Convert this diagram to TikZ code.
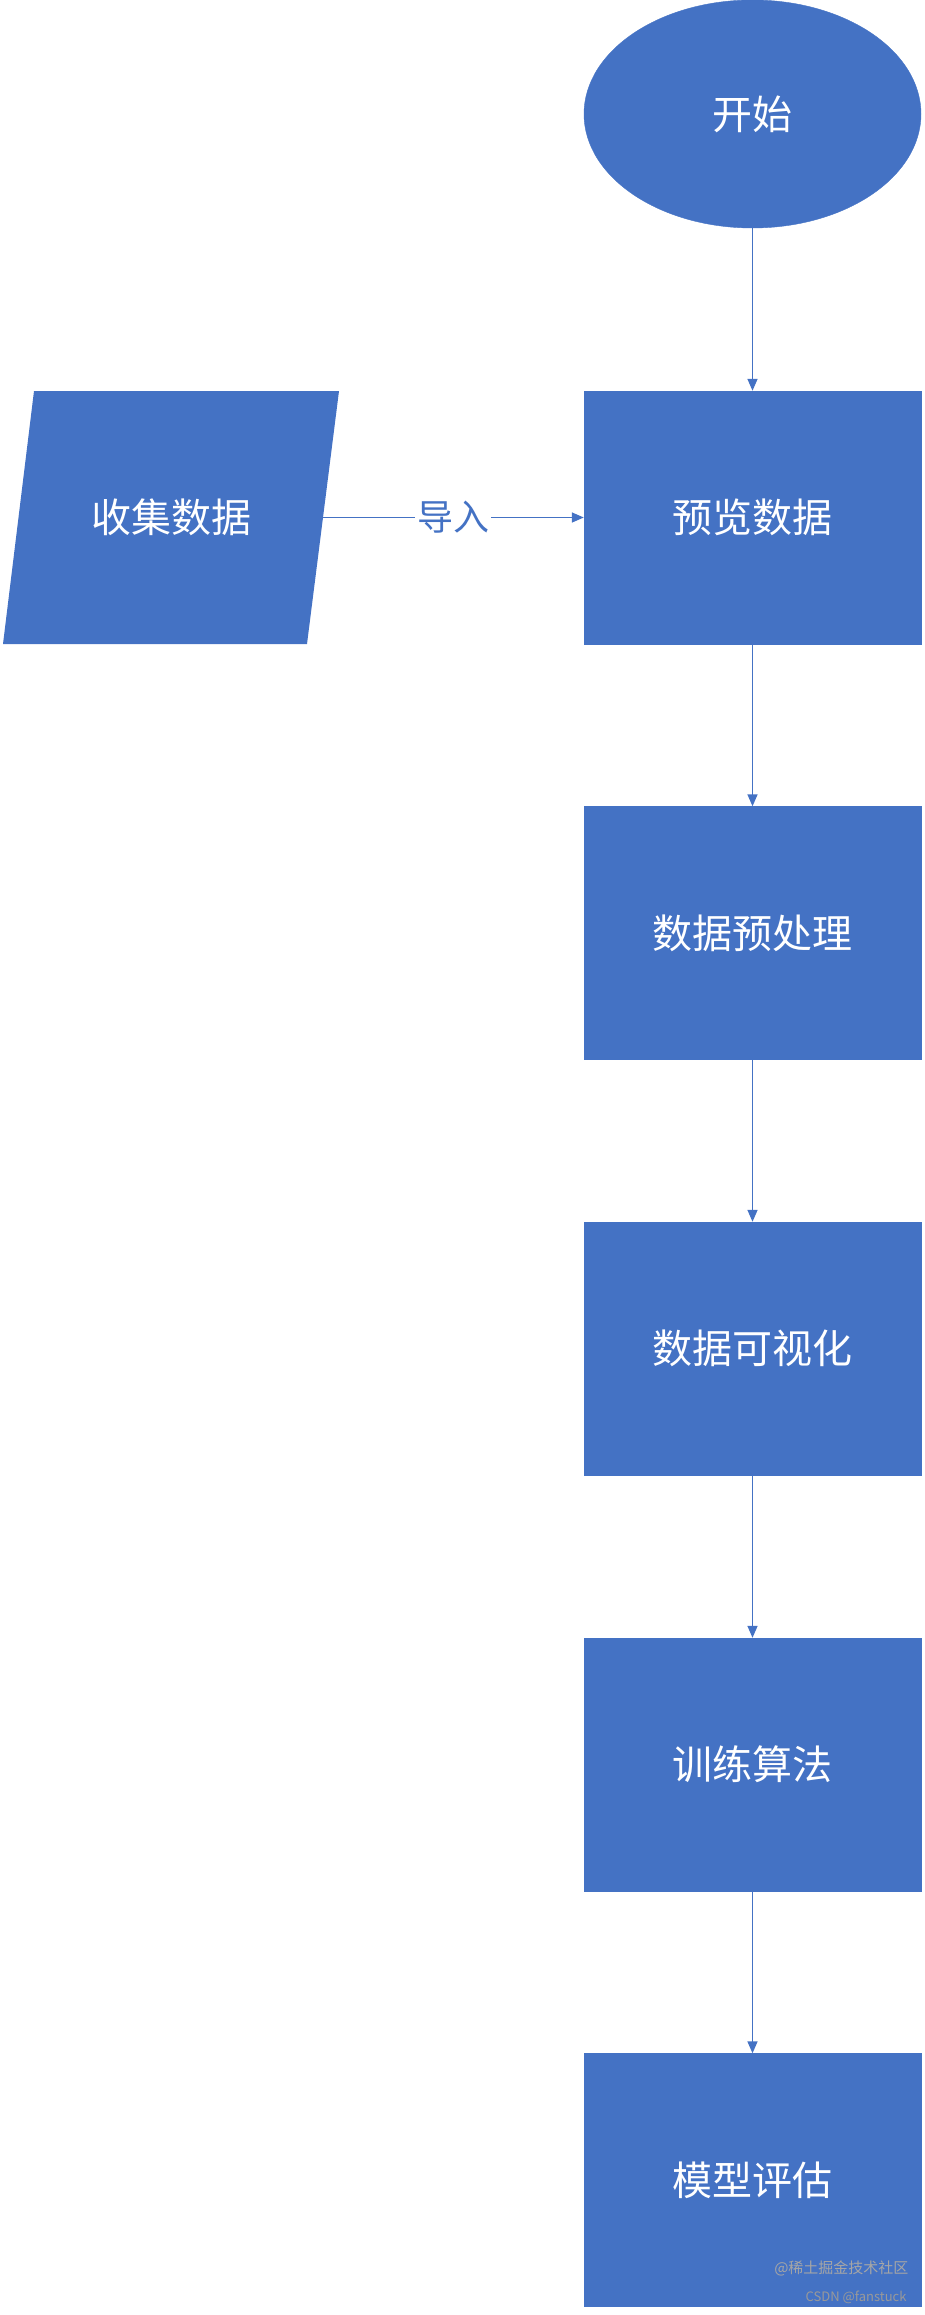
\documentclass[tikz,border=0pt]{standalone}
\usepackage{fontspec}
\setmainfont{Noto Sans CJK SC}
\usetikzlibrary{shapes.geometric,arrows.meta}
\definecolor{obl}{HTML}{4472C4}
\begin{document}
\begin{tikzpicture}[x=1pt,y=-1pt,
  boxst/.style={fill=obl,draw=obl,minimum width=337pt,minimum height=253pt,text=white,font=\fontsize{40}{48}\selectfont,inner sep=0pt},
  arr/.style={draw=obl,line width=1.5pt,-{Triangle[length=12pt,width=10pt]}}]
\useasboundingbox (0,0) rectangle (924,2315);
\node[boxst,ellipse,minimum width=337pt,minimum height=228pt] (s) at (752.5,114) {开始};
\node[boxst] (b1) at (752.5,517.5) {预览数据};
\node[boxst] (b2) at (752.5,933) {数据预处理};
\node[boxst] (b3) at (752.5,1348.5) {数据可视化};
\node[boxst] (b4) at (752.5,1764.5) {训练算法};
\node[boxst] (b5) at (752.5,2180) {模型评估};
\fill[obl] (34,391) -- (339,391) -- (307,644) -- (3,644) -- cycle;
\node[text=white,font=\fontsize{40}{48}\selectfont] (c) at (171,517.5) {收集数据};
\coordinate (ce) at (323,517.5);
\draw[arr] (s) -- (b1);
\draw[arr] (b1) -- (b2);
\draw[arr] (b2) -- (b3);
\draw[arr] (b3) -- (b4);
\draw[arr] (b4) -- (b5);
\draw[arr] (ce) -- node[fill=white,text=obl,font=\fontsize{36}{44}\selectfont,inner sep=2pt] (lb) {导入} (b1);
\node[text=gray!70,font=\fontsize{15}{18}\selectfont,anchor=east] (w1) at (912,2268) {@稀土掘金技术社区};
\node[text=gray!80,font=\fontsize{13}{16}\selectfont,anchor=east] (w2) at (910,2297) {CSDN @fanstuck};
\end{tikzpicture}
\end{document}
